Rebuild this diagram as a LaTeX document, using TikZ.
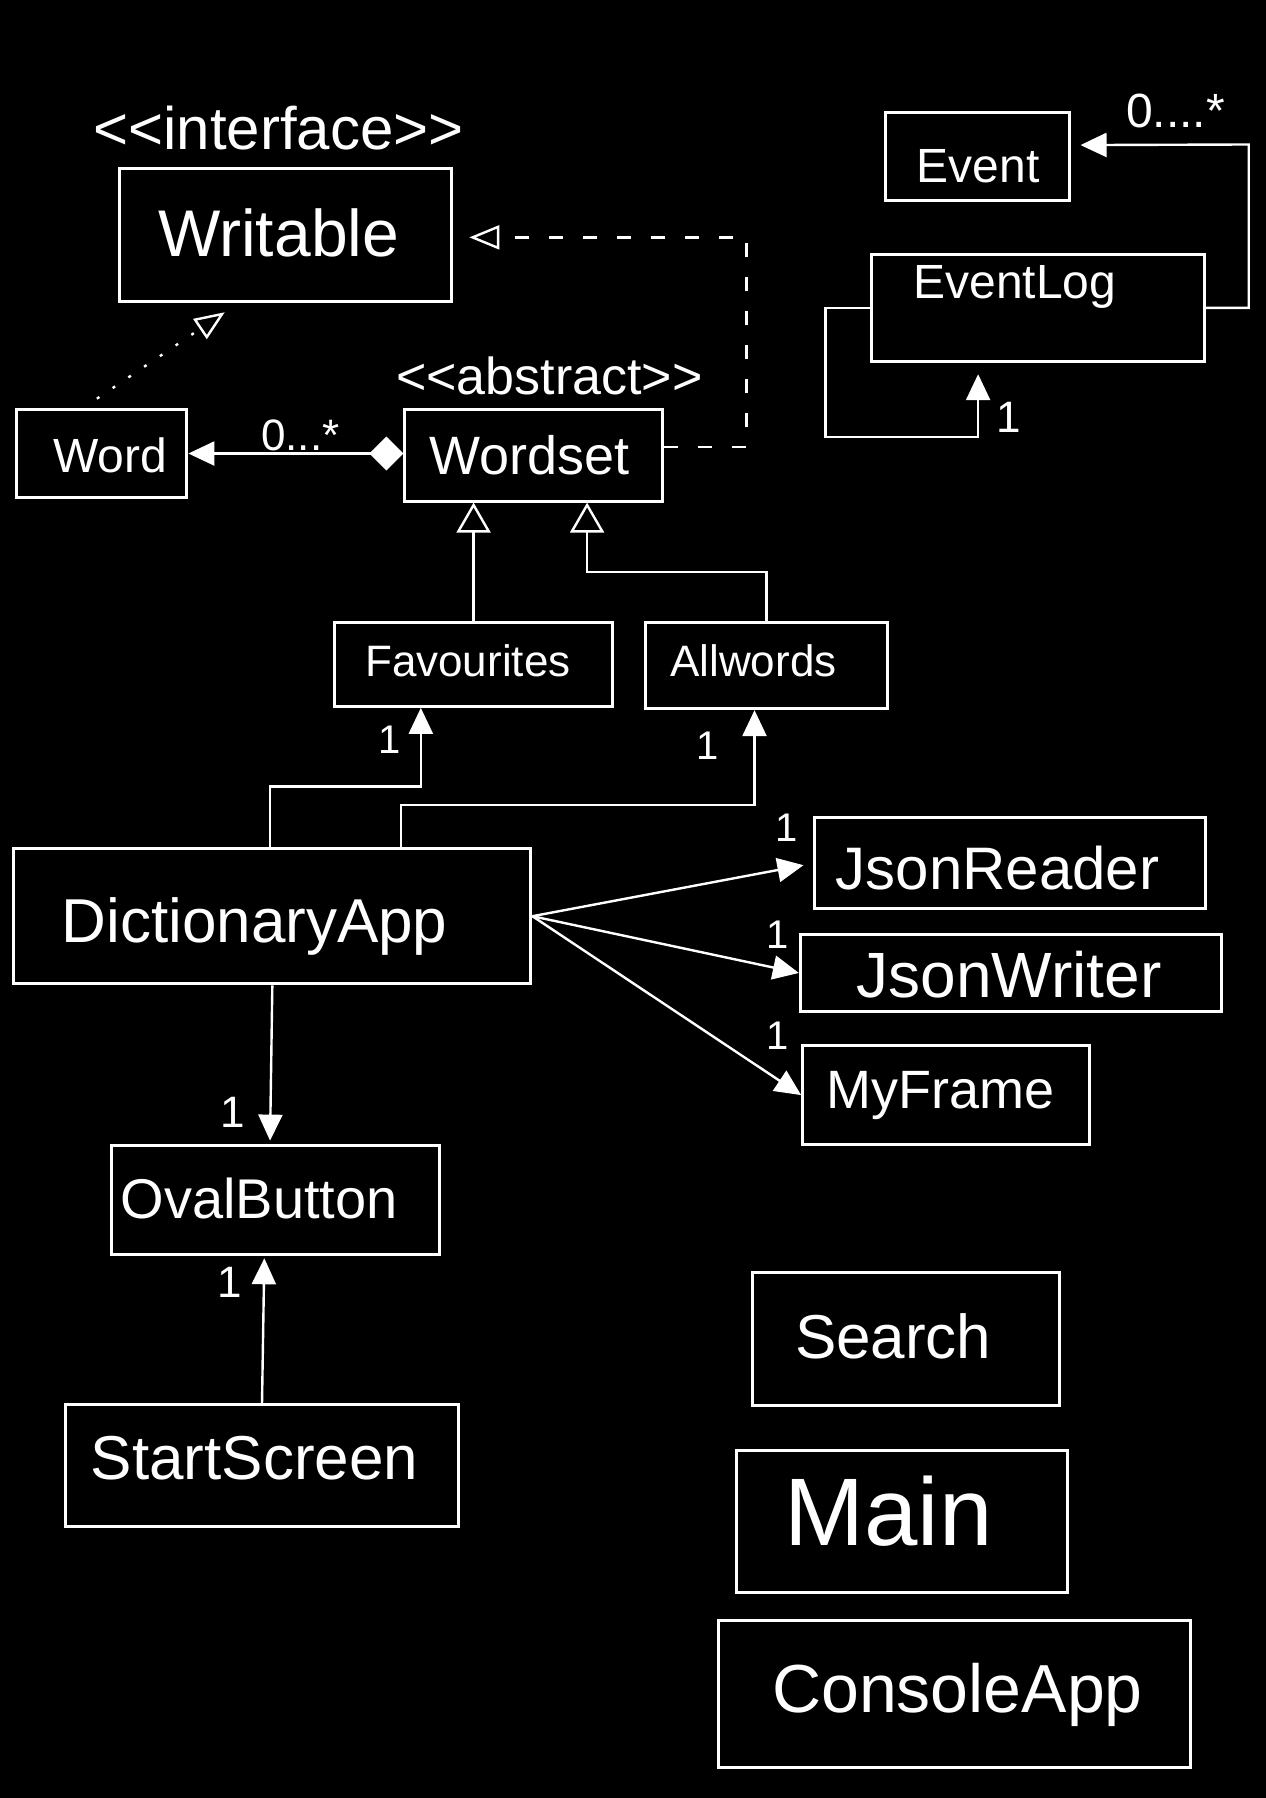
\documentclass[tikz,border=0pt]{standalone}
\usepackage{fontspec}
\setmainfont{Liberation Sans}
\usetikzlibrary{arrows.meta,fit,calc}
\begin{document}
\begin{tikzpicture}[x=0.57337pt,y=-0.57337pt,
  box/.style={draw=white,line width=1.5pt,inner sep=0pt},
  lbl/.style={text=white,inner sep=0pt,font=\fontsize{#1pt}{#1pt}\selectfont},
  conn/.style={draw=white,line width=1.2pt},
  assoc/.style={conn,-{Triangle[length=13pt,width=12pt]}},
  gen/.style={conn,-{Triangle[open,length=15pt,width=17pt,fill=black]}},
  realize/.style={conn,-{Triangle[open,length=15pt,width=12pt,fill=black]}},
  compos/.style={conn,{Triangle[length=13pt,width=12pt]}-{Diamond[length=17pt,width=17pt]}}]
\fill[black] (0,0) rectangle (1104,1568);
\useasboundingbox (0,0) rectangle (1104,1568);

% boxes
\node[box,fit={(104,147) (394,263)}] (writable) {};
\node[box,fit={(14,357) (163,434)}] (word) {};
\node[box,fit={(353,357) (578,437)}] (wordset) {};
\node[box,fit={(772,98) (933,175)}] (event) {};
\node[box,fit={(760,222) (1050,315)}] (eventlog) {};
\node[box,fit={(292,543) (534,616)}] (fav) {};
\node[box,fit={(563,543) (774,618)}] (allw) {};
\node[box,fit={(12,740) (463,858)}] (dict) {};
\node[box,fit={(710,713) (1051,792)}] (jr) {};
\node[box,fit={(698,815) (1065,882)}] (jw) {};
\node[box,fit={(700,912) (950,998)}] (mf) {};
\node[box,fit={(97,999) (383,1094)}] (ob) {};
\node[box,fit={(57,1225) (400,1331)}] (ss) {};
\node[box,fit={(656,1110) (924,1226)}] (search) {};
\node[box,fit={(642,1265) (931,1389)}] (main) {};
\node[box,fit={(627,1413) (1038,1541)}] (console) {};

% texts
\node[lbl=30] (t-iface) at (243,112) {<\kern0pt<interface>\kern0pt>};
\node[lbl=33] (t-writable) at (243,203) {Writable};
\node[lbl=24] (t-word) at (96,397) {Word};
\node[lbl=27] (t-wordset) at (462,397) {Wordset};
\node[lbl=26] (t-abstract) at (479,328) {<\kern0pt<abstract>\kern0pt>};
\node[lbl=22] (t-ww) at (262,380) {0...*};
\node[lbl=24] (t-event) at (853,145) {Event};
\node[lbl=24] (t-eventlog) at (885,250) {EventLog};
\node[lbl=24] (t-em) at (1025,97) {0....*};
\node[lbl=22] (t-el1) at (880,364) {1};
\node[lbl=22] (t-fav) at (408,576) {Favourites};
\node[lbl=22] (t-allw) at (657,576) {Allwords};
\node[lbl=20] (t-f1) at (340,645) {1};
\node[lbl=20] (t-a1) at (617,650) {1};
\node[lbl=31] (t-dict) at (222,808) {DictionaryApp};
\node[lbl=30] (t-jr) at (870,757) {JsonReader};
\node[lbl=32] (t-jw) at (880,850) {JsonWriter};
\node[lbl=27] (t-mf) at (820,955) {MyFrame};
\node[lbl=20] (t-jr1) at (686,722) {1};
\node[lbl=20] (t-jw1) at (678,815) {1};
\node[lbl=20] (t-mf1) at (678,903) {1};
\node[lbl=28] (t-ob) at (226,1045) {OvalButton};
\node[lbl=22] (t-ob1) at (203,970) {1};
\node[lbl=22] (t-ss1) at (200,1118) {1};
\node[lbl=31] (t-ss) at (222,1272) {StartScreen};
\node[lbl=31] (t-search) at (779,1165) {Search};
\node[lbl=48] (t-main) at (775,1318) {Main};
\node[lbl=34] (t-console) at (835,1478) {ConsoleApp};

% connectors
\draw[compos] (word.east) -- (word.east -| wordset.west);
\draw[realize,dash pattern=on 1.5pt off 8pt] ($(word.north)+(-4,-8)$) -- ($(writable.south)+(-53,8)$);
\coordinate (wsr) at (651,207);
\draw[realize,dash pattern=on 7pt off 10pt] ($(wordset.east)+(0,-7)$) -| (wsr) -- ($(writable.east)+(14,2)$);
\draw[gen] (fav.north) -- (fav.north |- wordset.south);
\coordinate (ab) at (512,499);
\draw[gen] (allw.north) |- (ab) -- (ab |- wordset.south);
\coordinate (df) at (367,686);
\draw[assoc] ($(dict.north west)+(225,0)$) |- (df) -- (df |- fav.south);
\coordinate (da) at (658,702);
\draw[assoc] ($(dict.north west)+(339,0)$) |- (da) -- (da |- allw.south);
\draw[assoc] (dict.east) -- ($(jr.west)+(-8,2)$);
\draw[assoc] (dict.east) -- (jw.west);
\draw[assoc] (dict.east) -- (mf.west);
\draw[assoc] (dict.south) -- ($(dict.south |- ob.north)+(-2,-3)$);
\draw[assoc] (ss.north) -- ($(ss.north |- ob.south)+(2,2)$);
\coordinate (er) at (1089,126);
\draw[assoc] (eventlog.east) -| (er) -- ($(event.east)+(8,-10)$);
\coordinate (elA) at (720,381);
\coordinate (elB) at (853,381);
\draw[assoc] (eventlog.west) -| (elA) -- (elB) -- ($(elB |- eventlog.south)+(0,10)$);
\end{tikzpicture}
\end{document}
